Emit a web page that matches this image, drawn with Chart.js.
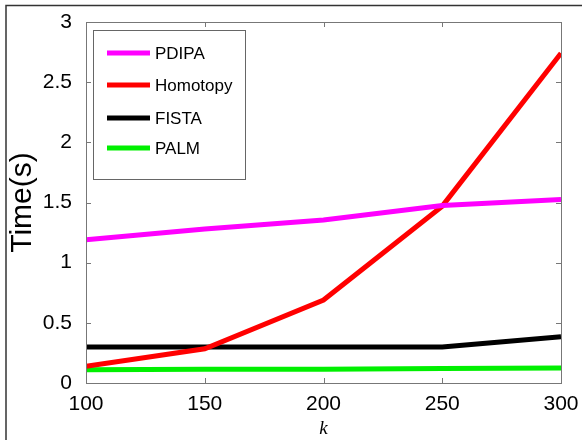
<!DOCTYPE html>
<html>
<head>
<meta charset="utf-8">
<script src="https://cdn.jsdelivr.net/npm/chart.js@4"></script>
<style>
  html, body { margin: 0; padding: 0; background: #fff; }
  #wrap { width: 582px; height: 440px; }
</style>
</head>
<body>
<div id="wrap"><canvas id="timeChart" width="582" height="440"></canvas></div>
<script>
const kValues = [100, 150, 200, 250, 300];
const pdipaTime = [1.19, 1.28, 1.355, 1.475, 1.525];
const homotopyTime = [0.14, 0.285, 0.69, 1.47, 2.74];
const fistaTime = [0.30, 0.30, 0.30, 0.30, 0.385];
const palmTime = [0.11, 0.115, 0.115, 0.12, 0.125];
const seriesNames = ['PDIPA', 'Homotopy', 'FISTA', 'PALM'];
const seriesColors = ['#ff00ff', '#ff0000', '#000000', '#00f000'];
const xTicks = [100, 150, 200, 250, 300];
const yTicks = [0, 0.5, 1, 1.5, 2, 2.5, 3];

const toPoints = (ys) => ys.map((y, i) => ({ x: kValues[i], y: y }));
const allSeries = [pdipaTime, homotopyTime, fistaTime, palmTime];

// matlab-ish frame: box, inward ticks, legend box, outer figure edge
const framePlugin = {
  id: 'frame',
  afterDatasetsDraw(chart) {
    const { ctx, chartArea: a, scales } = chart;
    ctx.save();
    ctx.strokeStyle = '#777';
    ctx.lineWidth = 1;
    ctx.strokeRect(a.left + 0.5, a.top + 0.5, a.right - a.left, a.bottom - a.top);
    ctx.beginPath();
    xTicks.forEach(v => {
      const x = Math.round(scales.x.getPixelForValue(v)) + 0.5;
      ctx.moveTo(x, a.bottom); ctx.lineTo(x, a.bottom - 5);
      ctx.moveTo(x, a.top); ctx.lineTo(x, a.top + 5);
    });
    yTicks.forEach(v => {
      const y = Math.round(scales.y.getPixelForValue(v)) + 0.5;
      ctx.moveTo(a.left, y); ctx.lineTo(a.left + 5, y);
      ctx.moveTo(a.right, y); ctx.lineTo(a.right - 5, y);
    });
    ctx.stroke();

    // legend
    ctx.fillStyle = '#fff';
    ctx.fillRect(93, 30, 152, 149);
    ctx.strokeStyle = '#666';
    ctx.strokeRect(93.5, 30.5, 152, 149);
    const rows = [53, 85, 118, 148];
    ctx.font = '17px "Liberation Sans", Arial, sans-serif';
    ctx.textBaseline = 'middle';
    chart.data.datasets.forEach((ds, i) => {
      ctx.strokeStyle = ds.borderColor;
      ctx.lineWidth = 5;
      ctx.beginPath();
      ctx.moveTo(107, rows[i]); ctx.lineTo(150, rows[i]);
      ctx.stroke();
      ctx.fillStyle = '#000';
      ctx.fillText(ds.label, 155, rows[i] + 1);
    });

    // outer figure edge
    ctx.strokeStyle = '#333';
    ctx.lineWidth = 1.5;
    ctx.beginPath();
    ctx.moveTo(6, 440); ctx.lineTo(6, 5.5); ctx.lineTo(582, 5.5);
    ctx.stroke();
    ctx.restore();
  }
};

new Chart(document.getElementById('timeChart').getContext('2d'), {
  type: 'line',
  data: {
    datasets: allSeries.map((ys, i) => ({
      label: seriesNames[i],
      data: toPoints(ys),
      borderColor: seriesColors[i],
      backgroundColor: seriesColors[i],
      borderWidth: 5,
      pointRadius: 0,
      tension: 0
    }))
  },
  options: {
    responsive: false,
    animation: false,
    layout: { padding: { top: 22, right: 21, left: 5, bottom: 0 } },
    plugins: { legend: { display: false }, tooltip: { enabled: false } },
    scales: {
      x: {
        type: 'linear', min: 100, max: 300,
        afterBuildTicks: (s) => { s.ticks = xTicks.map(v => ({ value: v })); },
        grid: { display: false },
        border: { display: false },
        ticks: { color: '#000', padding: 1, maxRotation: 0, font: { family: '"Liberation Sans", Arial, sans-serif', size: 21 } },
        title: { display: true, text: 'k', color: '#000', padding: { top: 0, bottom: 0 }, font: { family: '"Liberation Serif", "Times New Roman", serif', style: 'italic', size: 19 } },
        afterFit: (s) => { s.height = 57; }
      },
      y: {
        type: 'linear', min: 0, max: 3,
        afterBuildTicks: (s) => { s.ticks = yTicks.map(v => ({ value: v })); },
        grid: { display: false },
        border: { display: false },
        ticks: { color: '#000', padding: 6, callback: (v) => String(v), font: { family: '"Liberation Sans", Arial, sans-serif', size: 21 } },
        title: { display: true, text: 'Time(s)', color: '#000', padding: { top: 0, bottom: 0 }, font: { family: '"Liberation Sans", Arial, sans-serif', size: 30 } },
        afterFit: (s) => { s.width = 81; }
      }
    }
  },
  plugins: [framePlugin]
});
</script>
</body>
</html>
